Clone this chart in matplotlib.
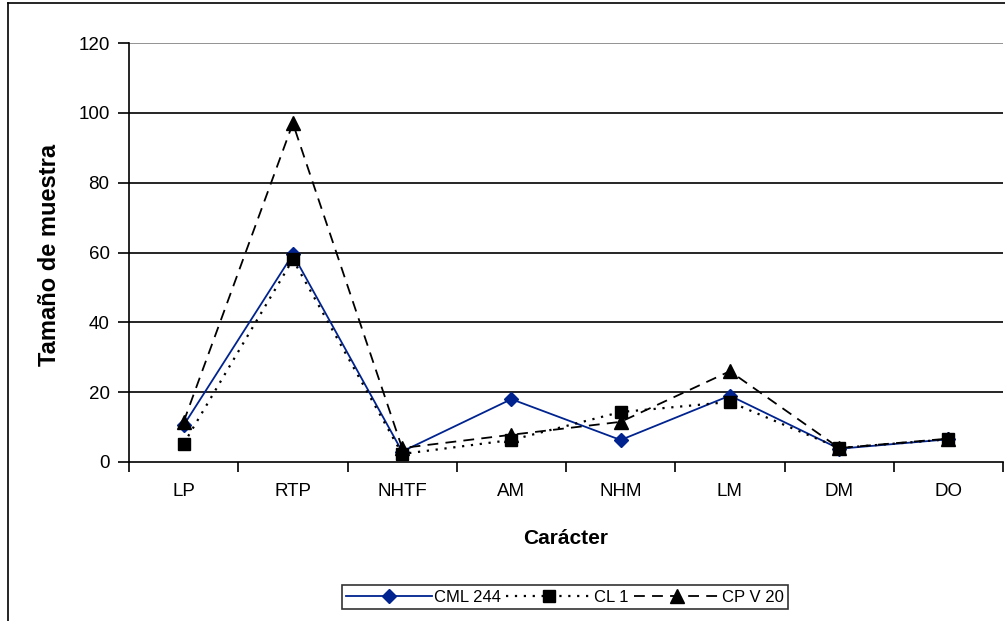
import matplotlib.pyplot as plt
from matplotlib.lines import Line2D

plt.rcParams['font.family'] = ['Liberation Sans', 'DejaVu Sans']

# Datos
caracteres = ['LP', 'RTP', 'NHTF', 'AM', 'NHM', 'LM', 'DM', 'DO']
cml_244 = [10.5, 59.5, 3, 18, 6.3, 19, 3.8, 6.5]
cl_1 = [5.2, 58, 2.3, 6.3, 14.3, 17.2, 4, 6.5]
cpv_20 = [11.5, 97, 4, 7.8, 11.5, 26, 4, 6.7]

fig = plt.figure(figsize=(10.05, 6.21), dpi=100)
W, H = 1005, 621
ax = fig.add_axes([129 / W, (H - 462) / H, 874 / W, 419 / H])

x = [i + 0.5 for i in range(len(caracteres))]
azul = '#00238f'

ax.plot(x, cml_244, color=azul, lw=1.3, marker='D', ms=7, mfc=azul, mec=azul,
        label='CML 244', zorder=3)
ax.plot(x, cl_1, color='black', lw=1.6, ls=(0, (1, 3)), marker='s', ms=8,
        mfc='black', mec='black', label='CL 1', zorder=3)
ax.plot(x, cpv_20, color='black', lw=1.3, ls=(0, (6, 4)), marker='^', ms=10,
        mfc='black', mec='black', label='CP V 20', zorder=3)

# Líneas de cuadrícula
for v in [20, 40, 60, 80, 100]:
    ax.axhline(v, color='black', lw=1.2, zorder=1)
ax.axhline(120, color='#808080', lw=1.2, zorder=1)

ax.set_xlim(0, len(caracteres))
ax.set_ylim(0, 120)
ax.set_yticks(range(0, 121, 20))
ax.set_xticks(range(len(caracteres) + 1))
ax.set_xticklabels([])
ax.set_xticks(x, minor=True)
ax.set_xticklabels(caracteres, minor=True)
ax.tick_params(axis='x', which='minor', length=0, pad=15, labelsize=13.5)
ax.tick_params(axis='x', which='major', length=7, width=1.2, direction='out')
ax.tick_params(axis='y', length=8, width=1.2, direction='out', labelsize=13.5, pad=6)

for s in ['top', 'right']:
    ax.spines[s].set_visible(False)
for s in ['left', 'bottom']:
    ax.spines[s].set_linewidth(1.2)

ax.set_xlabel('Carácter', fontsize=15, fontweight='bold')
ax.xaxis.label.set_va('center')
ax.xaxis.set_label_coords(0.5, -(538 - 462) / 419)
ax.set_ylabel('Tamaño de muestra', fontsize=17, fontweight='bold')
ax.yaxis.label.set_va('center')
ax.yaxis.set_label_coords(-(129 - 50) / 874, (462 - 255) / 419)

leg = fig.legend(loc='center', bbox_to_anchor=(565 / W, 1 - 597 / H), ncol=3,
                 frameon=True, fancybox=False, edgecolor='black', fontsize=12,
                 handlelength=5.2, handletextpad=0.1, columnspacing=0.3,
                 borderpad=0.25, borderaxespad=0)
leg.get_frame().set_linewidth(1.2)

# Borde exterior del gráfico
fig.add_artist(Line2D([8 / W, 8 / W], [0, 1 - 3 / H], color='black', lw=1.2))
fig.add_artist(Line2D([8 / W, 1], [1 - 3 / H, 1 - 3 / H], color='black', lw=1.2))

fig.savefig('out.png', dpi=100)
